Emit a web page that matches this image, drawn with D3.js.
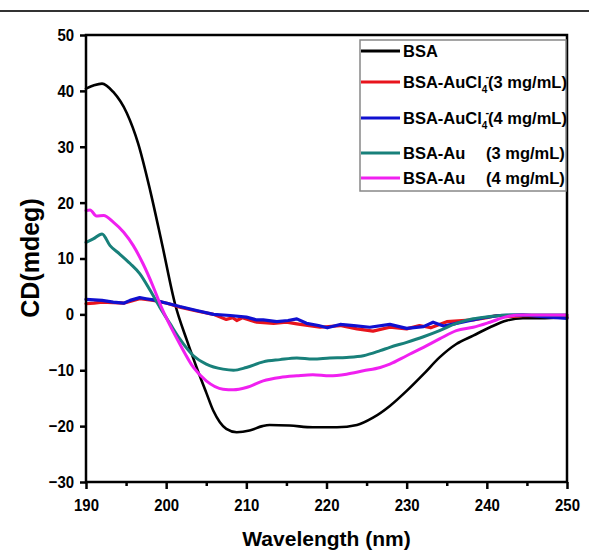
<!DOCTYPE html>
<html><head><meta charset="utf-8">
<script src="https://cdn.jsdelivr.net/npm/d3@7"></script>
<style>
html,body{margin:0;padding:0;background:#fff;}
svg{display:block;font-family:"Liberation Sans",Arial,sans-serif;font-weight:bold;}
</style></head>
<body>
<svg id="chart" width="589" height="553"></svg>
<script>
// ---- data ----
const xTicks = [190, 200, 210, 220, 230, 240, 250];
const xMinorTicks = [195, 205, 215, 225, 235, 245];
const yTicks = [-30, -20, -10, 0, 10, 20, 30, 40, 50];

const bsaWl = [190, 191, 192, 193.4, 195.1, 196.5, 198.0, 199.5, 201.1, 202.6, 203.8, 205.0, 205.9, 206.7, 207.5, 208.8, 210.4, 212.0, 212.9, 215.4, 218.3, 221.3, 223.8, 225.8, 227.9, 230, 232.1, 234.1, 236.2, 238.3, 240.4, 242.5, 244.5, 246.6, 250];
const bsaCd = [40.4, 41.0, 41.3, 39.8, 36.0, 30.6, 22.2, 12.5, 1.9, -4.7, -9.5, -14.0, -17.3, -19.3, -20.5, -21.1, -20.8, -20.0, -19.8, -19.9, -20.2, -20.2, -19.8, -18.5, -16.4, -13.7, -10.7, -7.7, -5.3, -3.8, -2.3, -1.1, -0.7, -0.7, -0.5];

const au3Wl = [190, 191, 192, 193.4, 194.7, 196.7, 198.4, 200.1, 201.7, 203.8, 205.9, 207.5, 208.3, 208.8, 209.5, 211.3, 213.4, 215, 216.3, 219.2, 221.7, 223.8, 225.8, 227.9, 230, 231.6, 233, 235.0, 238.3, 240, 241.2, 242.5, 245, 250];
const au3Cd = [1.9, 2.0, 2.2, 2.1, 2.0, 2.8, 2.5, 2.0, 1.3, 0.6, 0.0, -0.9, -0.6, -1.1, -0.6, -1.4, -1.6, -1.4, -1.7, -2.3, -2.0, -2.6, -3.0, -2.3, -2.6, -2.0, -2.4, -1.3, -1.0, -0.6, -0.2, -0.4, -0.2, -0.5];

const au4Wl = [190, 191, 192, 193.4, 194.7, 195.5, 196.7, 197.5, 198.4, 200.1, 201.7, 203.8, 205.9, 208.0, 210.0, 211.3, 212.1, 213.8, 215.2, 216.3, 217.5, 219, 220.1, 221.7, 223.4, 225.4, 227.9, 230, 232.1, 233.3, 234.6, 236.2, 237.5, 239.6, 241.6, 244.5, 247, 250];
const au4Cd = [2.7, 2.6, 2.5, 2.2, 2.0, 2.5, 3.0, 2.8, 2.6, 2.0, 1.4, 0.7, 0.0, -0.2, -0.5, -1.0, -1.0, -1.3, -1.1, -0.8, -1.6, -2.0, -2.4, -1.8, -2.0, -2.3, -1.8, -2.5, -2.2, -1.4, -2.1, -1.6, -1.2, -0.6, -0.2, -0.1, -0.4, -0.7];

const np3Wl = [190, 190.9, 192.0, 193.0, 194.2, 195.5, 196.7, 198.0, 199.2, 200.5, 201.7, 203.4, 205.0, 207.1, 208.4, 210.0, 212.1, 214.2, 216.3, 218.3, 220.4, 222.5, 224.6, 226.7, 227.9, 230, 232.1, 234.1, 236.2, 238.3, 240.4, 242.5, 250];
const np3Cd = [12.9, 13.5, 14.4, 12.3, 10.8, 9.1, 7.3, 4.3, 1.3, -1.7, -4.4, -7.4, -8.9, -9.8, -10.0, -9.5, -8.5, -8.1, -7.8, -8.0, -7.8, -7.7, -7.4, -6.5, -5.9, -5.0, -4.0, -2.9, -1.6, -0.8, -0.4, -0.1, -0.1];

const np4Wl = [190, 190.5, 191.3, 192.2, 193.4, 194.7, 195.9, 197.1, 198.4, 199.4, 200.7, 201.7, 203.4, 205.0, 207.1, 208.4, 210.0, 212.1, 214.2, 216.3, 218.3, 220.4, 222.5, 224.6, 226.7, 227.9, 230, 232.1, 234.1, 236.2, 238.3, 240.4, 242.5, 244.5, 250];
const np4Cd = [18.6, 18.7, 17.6, 17.7, 16.5, 14.7, 12.3, 9.1, 4.9, 1.3, -2.6, -5.3, -9.5, -11.9, -13.4, -13.5, -13.1, -11.9, -11.3, -11.0, -10.8, -11.0, -10.7, -10.1, -9.5, -8.9, -7.4, -5.9, -4.4, -2.9, -2.3, -1.4, -0.4, -0.1, -0.1];

const seriesNames = ["BSA", "BSA-AuCl4-(3 mg/mL)", "BSA-AuCl4-(4 mg/mL)", "BSA-Au (3 mg/mL)", "BSA-Au (4 mg/mL)"];
const seriesColors = ["#000000", "#e8141c", "#1010d0", "#18807a", "#f020f0"];

const series = [
  {name: seriesNames[0], color: seriesColors[0], wl: bsaWl, cd: bsaCd, smooth: true, w: 2.6},
  {name: seriesNames[1], color: seriesColors[1], wl: au3Wl, cd: au3Cd, smooth: false, w: 3.2},
  {name: seriesNames[2], color: seriesColors[2], wl: au4Wl, cd: au4Cd, smooth: false, w: 3.2},
  {name: seriesNames[3], color: seriesColors[3], wl: np3Wl, cd: np3Cd, smooth: true, w: 3},
  {name: seriesNames[4], color: seriesColors[4], wl: np4Wl, cd: np4Cd, smooth: true, w: 3}
];

// ---- layout ----
const svg = d3.select("#chart");
const L = 86, R = 567, T = 35, B = 482;
const x = d3.scaleLinear().domain([190, 250]).range([L, R]);
const y = d3.scaleLinear().domain([-30, 50]).range([B, T]);

// page rule
svg.append("line").attr("x1", 0).attr("x2", 589).attr("y1", 11).attr("y2", 11)
  .attr("stroke", "#333").attr("stroke-width", 2);

// curves
const g = svg.append("g");
series.forEach(s => {
  const pts = s.wl.map((w, i) => [w, s.cd[i]]);
  const line = d3.line().x(d => x(d[0])).y(d => y(d[1]))
    .curve(s.smooth ? d3.curveMonotoneX : d3.curveLinear);
  g.append("path").datum(pts).attr("d", line)
    .attr("fill", "none").attr("stroke", s.color).attr("stroke-width", s.w)
    .attr("stroke-linejoin", "round").attr("stroke-linecap", "round");
});

// frame
svg.append("rect").attr("x", L).attr("y", T).attr("width", R - L).attr("height", B - T)
  .attr("fill", "none").attr("stroke", "#000").attr("stroke-width", 2.5);

// axes
const xAxis = d3.axisBottom(x).tickValues(xTicks).tickSize(7).tickPadding(10).tickFormat(d3.format("d"));
const gx = svg.append("g").attr("transform", `translate(0,${B})`).call(xAxis);
gx.select(".domain").remove();
gx.selectAll("line").attr("stroke", "#000").attr("stroke-width", 2.5);
gx.selectAll("text").attr("font-size", 17).attr("font-weight", "bold").attr("fill", "#000")
  .attr("font-family", "Liberation Sans, Arial, sans-serif")
  .attr("transform", "scale(0.88,1)");

const xMinor = d3.axisBottom(x).tickValues(xMinorTicks).tickSize(4).tickFormat("");
const gxm = svg.append("g").attr("transform", `translate(0,${B})`).call(xMinor);
gxm.select(".domain").remove();
gxm.selectAll("line").attr("stroke", "#000").attr("stroke-width", 2.5);

const yAxis = d3.axisLeft(y).tickValues(yTicks).tickSize(6).tickPadding(6).tickFormat(d3.format("d"));
const gy = svg.append("g").attr("transform", `translate(${L},0)`).call(yAxis);
gy.select(".domain").remove();
gy.selectAll("line").attr("stroke", "#000").attr("stroke-width", 2.5);
gy.selectAll("text").attr("font-size", 17).attr("font-weight", "bold").attr("fill", "#000")
  .attr("font-family", "Liberation Sans, Arial, sans-serif")
  .attr("x", -13.5).attr("transform", "scale(0.88,1)");

// axis titles
svg.append("text").attr("x", (L + R) / 2).attr("y", 546).attr("text-anchor", "middle")
  .attr("font-size", 21).attr("font-weight", "bold").text("Wavelength (nm)");
svg.append("text").attr("transform", "translate(39,258) rotate(-90)").attr("text-anchor", "middle")
  .attr("font-size", 25).attr("font-weight", "bold").text("CD(mdeg)");

// legend
const lg = svg.append("g");
lg.append("rect").attr("x", 360).attr("y", 40).attr("width", 206).attr("height", 151)
  .attr("fill", "#fff").attr("stroke", "#888").attr("stroke-width", 1.5);
const rowY = [51, 82, 118, 153, 178];
series.forEach((s, i) => {
  const yy = rowY[i];
  lg.append("line").attr("x1", 361).attr("x2", 400).attr("y1", yy).attr("y2", yy)
    .attr("stroke", s.color).attr("stroke-width", 3.2);
  const t = lg.append("text").attr("x", 403).attr("y", yy + 6).attr("font-size", 16.5).attr("font-weight", "bold");
  if (i === 0) {
    t.text("BSA");
  } else if (i === 1 || i === 2) {
    t.append("tspan").text("BSA-AuCl");
    t.append("tspan").attr("font-size", 10).attr("dy", 5).text("4");
    t.append("tspan").attr("font-size", 11).attr("dx", -2).attr("dy", -13).text("-");
    t.append("tspan").attr("dx", -1).attr("dy", 8).text(i === 1 ? "(3 mg/mL)" : "(4 mg/mL)");
  } else {
    t.text("BSA-Au");
    lg.append("text").attr("x", 486).attr("y", yy + 6).attr("font-size", 16.5).attr("font-weight", "bold")
      .text(i === 3 ? "(3 mg/mL)" : "(4 mg/mL)");
  }
});
</script>
</body></html>
